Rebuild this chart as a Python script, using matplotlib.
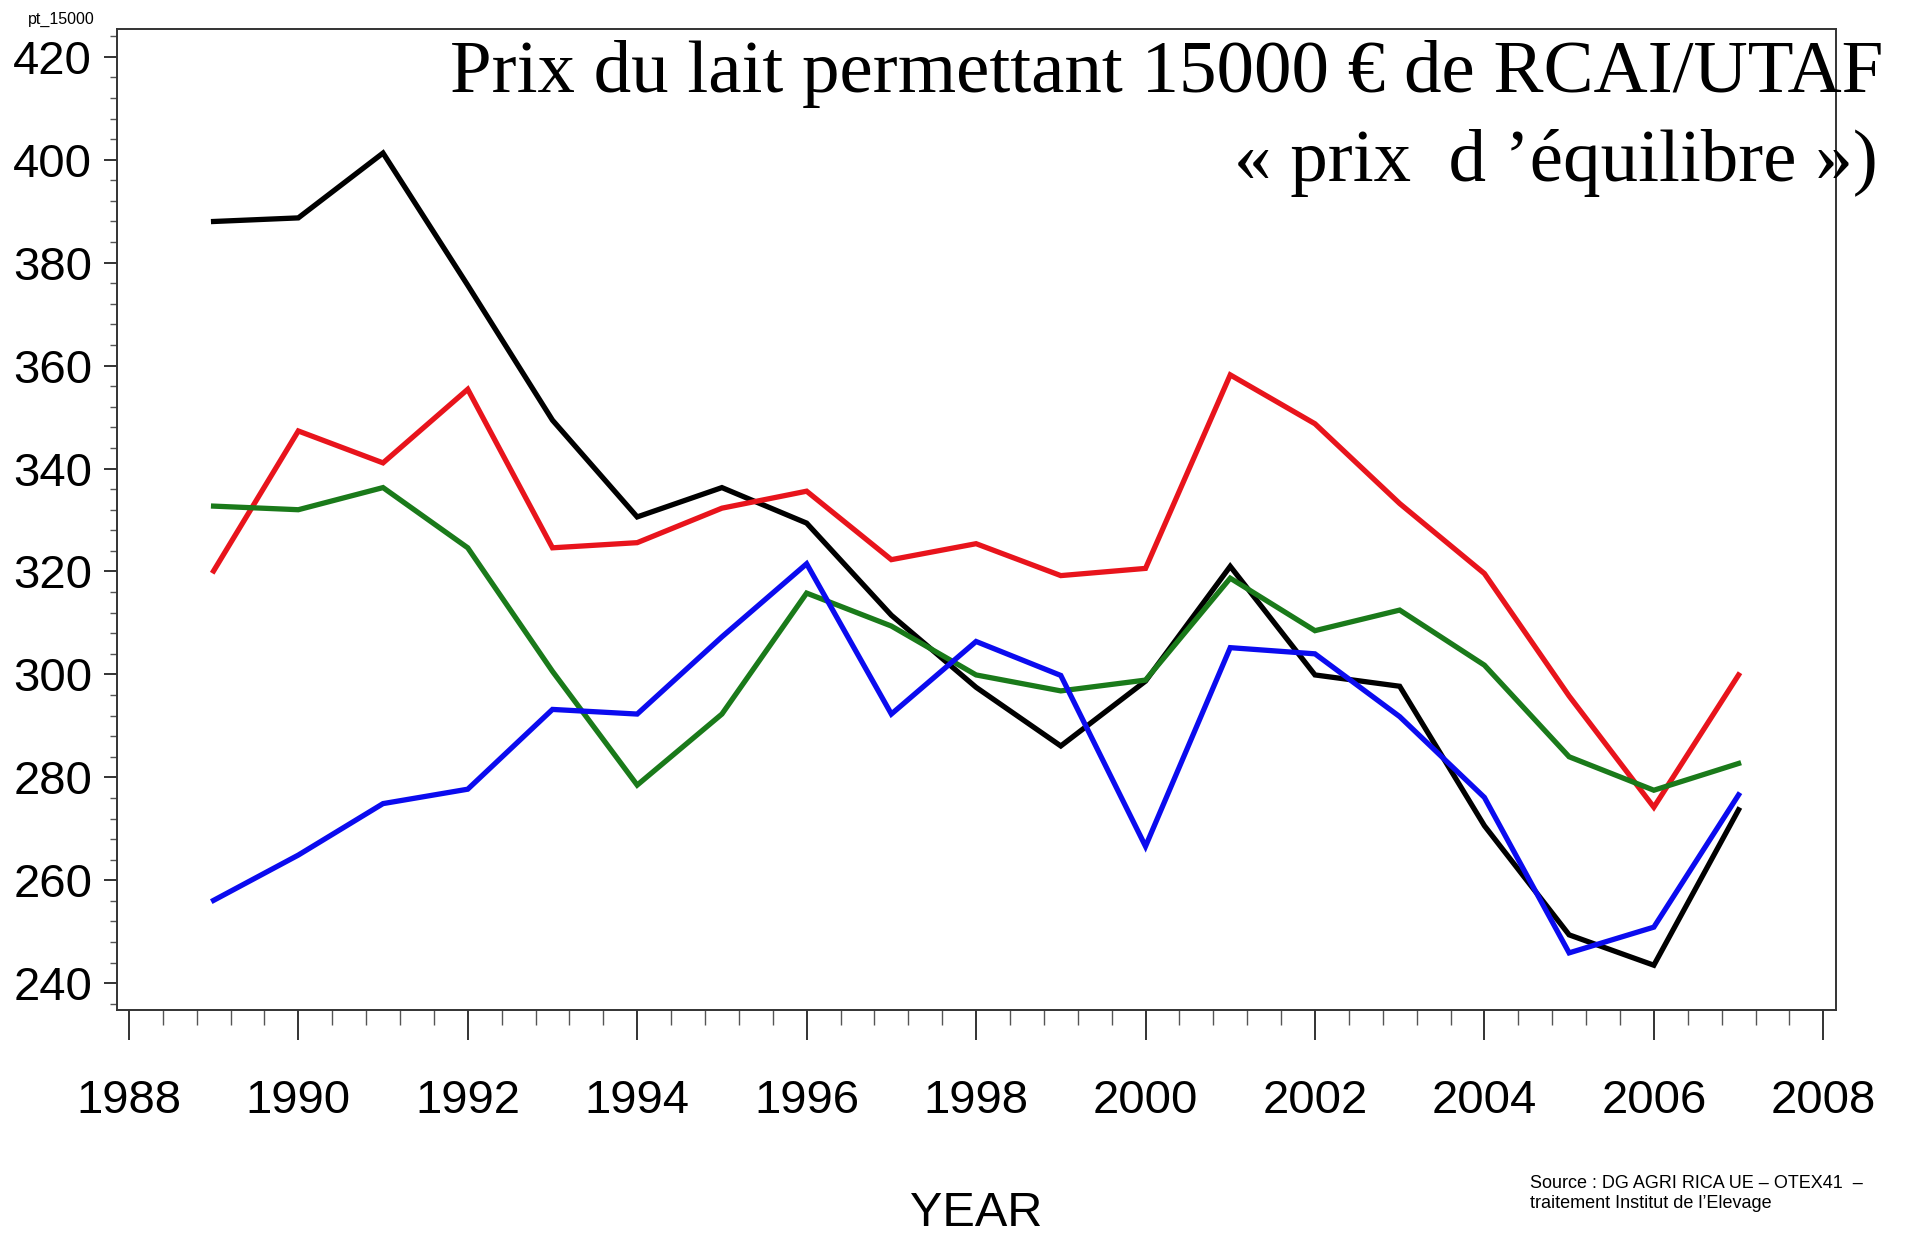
import matplotlib
matplotlib.use("Agg")
import matplotlib.pyplot as plt
from matplotlib.ticker import MultipleLocator

years = list(range(1989, 2008))
black = [388.0, 388.7, 401.3, 375.6, 349.4, 330.6, 336.3, 329.4, 311.5, 297.5,
         286.1, 298.7, 321.0, 299.9, 297.7, 270.6, 249.4, 243.5, 273.7]
red = [320.1, 347.3, 341.1, 355.4, 324.6, 325.6, 332.3, 335.6, 322.3, 325.4,
       319.2, 320.6, 358.2, 348.7, 333.2, 319.6, 295.8, 274.2, 299.9]
green = [332.7, 332.0, 336.3, 324.6, 300.6, 278.5, 292.3, 315.8, 309.4, 299.9,
         296.8, 298.9, 318.7, 308.5, 312.5, 301.8, 284.0, 277.5, 282.7]
blue = [256.1, 264.9, 274.9, 277.7, 293.2, 292.3, 307.3, 321.5, 292.3, 306.4,
        299.8, 266.6, 305.2, 304.0, 291.8, 276.1, 245.9, 250.9, 276.6]

series = [black, red, green, blue]
colors = ["#000000", "#e8141c", "#1a7a1a", "#0b0bef"]

yticks = list(range(240, 421, 20))
xticks = list(range(1988, 2009, 2))

title1 = "Prix du lait permettant 15000 € de RCAI/UTAF"
title2 = "« prix  d ’équilibre »)"
source1 = "Source : DG AGRI RICA UE – OTEX41  –"
source2 = "traitement Institut de l’Elevage"

plt.rcParams['font.family'] = ['Liberation Sans', 'DejaVu Sans']

W, H = 1921, 1234
fig = plt.figure(figsize=(W / 100, H / 100), dpi=100)
ax = fig.add_axes([117 / W, 1 - 1010 / H, (1836 - 117) / W, (1010 - 29) / H])

for s, c in zip(series, colors):
    ax.plot(years, s, color=c, lw=3.8, solid_joinstyle='miter')

ax.set_xlim(1987.86, 2008.15)
ax.set_ylim(234.8, 425.4)
ax.set_yticks(yticks)
ax.set_xticks(xticks)
ax.yaxis.set_minor_locator(MultipleLocator(4))
ax.xaxis.set_minor_locator(MultipleLocator(0.4))

ax.tick_params(axis='y', which='major', length=9.4, width=1.4, labelsize=34, pad=8.5, color='#333333')
ax.tick_params(axis='y', which='minor', length=5, width=1.0, color='#555555')
ax.tick_params(axis='x', which='major', length=21.6, width=1.4, labelsize=34, pad=28, color='#333333')
ax.tick_params(axis='x', which='minor', length=10.8, width=1.0, color='#555555')
for sp in ax.spines.values():
    sp.set_linewidth(1.4)
    sp.set_color('#333333')

fig.text(28 / W, 1 - 12 / H, "pt_15000", fontsize=11.5, ha='left', va='top')
fig.text(976 / W, 1 - 1226 / H, "YEAR", fontsize=35, ha='center', va='baseline')

fig.text(450 / W, 1 - 92 / H, title1, fontsize=54, ha='left', va='baseline',
         family=['Liberation Serif', 'DejaVu Serif'])
fig.text(1878 / W, 1 - 181 / H, title2, fontsize=54, ha='right', va='baseline',
         family=['Liberation Serif', 'DejaVu Serif'])

fig.text(1530 / W, 1 - 1183 / H, source1, fontsize=13, ha='left', va='center')
fig.text(1530 / W, 1 - 1203 / H, source2, fontsize=13, ha='left', va='center')

fig.savefig("out.png", dpi=100)
